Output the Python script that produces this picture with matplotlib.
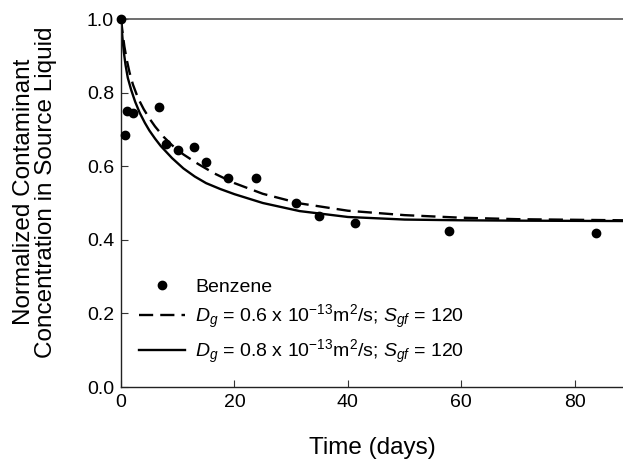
import matplotlib
matplotlib.use("Agg")
import matplotlib.pyplot as plt

plt.rcParams['font.family'] = ['Liberation Sans', 'DejaVu Sans']
plt.rcParams['mathtext.fontset'] = 'custom'
plt.rcParams['mathtext.rm'] = 'Liberation Sans'
plt.rcParams['mathtext.it'] = 'Liberation Sans:italic'

# measured data (benzene)
t_obs = [0, 0.7, 1.0, 2.2, 6.7, 8.0, 10.0, 12.9, 15.0, 18.8, 23.8, 30.9, 34.9, 41.2, 57.9, 83.8]
c_obs = [1.0, 0.685, 0.751, 0.745, 0.760, 0.660, 0.644, 0.653, 0.611, 0.567, 0.567,
         0.499, 0.465, 0.445, 0.425, 0.419]

# model curves
t_d06 = [0, 0.3, 0.6, 1.0, 1.5, 2.1, 3.0, 4.0, 5.0, 6.0, 7.5, 9.0, 11.0, 13.6, 16.5,
         20, 25, 31.5, 40, 50, 60, 70, 88.5]
c_d06 = [1.0, 0.96, 0.925, 0.89, 0.855, 0.822, 0.785, 0.755, 0.730, 0.708, 0.680, 0.657,
         0.632, 0.606, 0.580, 0.554, 0.525, 0.499, 0.479, 0.467, 0.460, 0.456, 0.453]
t_d08 = [0, 0.25, 0.5, 0.8, 1.2, 1.8, 2.5, 3.3, 4.2, 5.0, 6.0, 7.0, 9.0, 11.0, 13.0,
         15.0, 17.5, 20, 25, 31.5, 40, 50, 60, 70, 88.5]
c_d08 = [1.0, 0.95, 0.91, 0.875, 0.84, 0.807, 0.775, 0.745, 0.718, 0.697, 0.675, 0.655,
         0.622, 0.594, 0.572, 0.554, 0.538, 0.524, 0.500, 0.478, 0.462, 0.455, 0.453,
         0.452, 0.451]

fig = plt.figure(figsize=(6.23, 4.69), dpi=100)
ax = fig.add_axes([121 / 623, 82 / 469, 502 / 623, 368 / 469])

ax.plot(t_obs, c_obs, 'o', color='black', markersize=6, label='Benzene', clip_on=False, zorder=5)
ax.plot(t_d06, c_d06, color='black', lw=1.7, dashes=(6, 3),
        label=r'$D_g$ = 0.6 x 10$^{\mathregular{-13}}$m$^{\mathregular{2}}$/s; $S_{gf}$ = 120')
ax.plot(t_d08, c_d08, color='black', lw=1.7,
        label=r'$D_g$ = 0.8 x 10$^{\mathregular{-13}}$m$^{\mathregular{2}}$/s; $S_{gf}$ = 120')

ax.set_xlim(0, 88.5)
ax.set_ylim(0, 1.0)
ax.set_xticks([0, 20, 40, 60, 80])
ax.set_yticks([0.0, 0.2, 0.4, 0.6, 0.8, 1.0])
ax.set_yticklabels(['0.0', '0.2', '0.4', '0.6', '0.8', '1.0'])
ax.tick_params(direction='in', length=5, labelsize=14, pad=5, color='#333333')

ax.spines['right'].set_visible(False)
ax.spines['top'].set_color('#555555')
ax.spines['top'].set_linewidth(1.2)
for s in ['left', 'bottom']:
    ax.spines[s].set_color('#222222')
    ax.spines[s].set_linewidth(1.0)

ax.set_xlabel('Time (days)', fontsize=17.5)
ax.xaxis.set_label_coords(0.5, -0.135)
ax.xaxis.label.set_va('top')
ax.set_ylabel('Normalized Contaminant\nConcentration in Source Liquid', fontsize=17.5, linespacing=1.0)
ax.yaxis.set_label_coords(-0.127, 0.53)

ax.legend(loc='lower left', bbox_to_anchor=(0.035, 0.057), frameon=False, fontsize=14,
          handlelength=2.4, handletextpad=0.5, labelspacing=0.35, borderpad=0, borderaxespad=0)

fig.savefig('out.png', dpi=100)
